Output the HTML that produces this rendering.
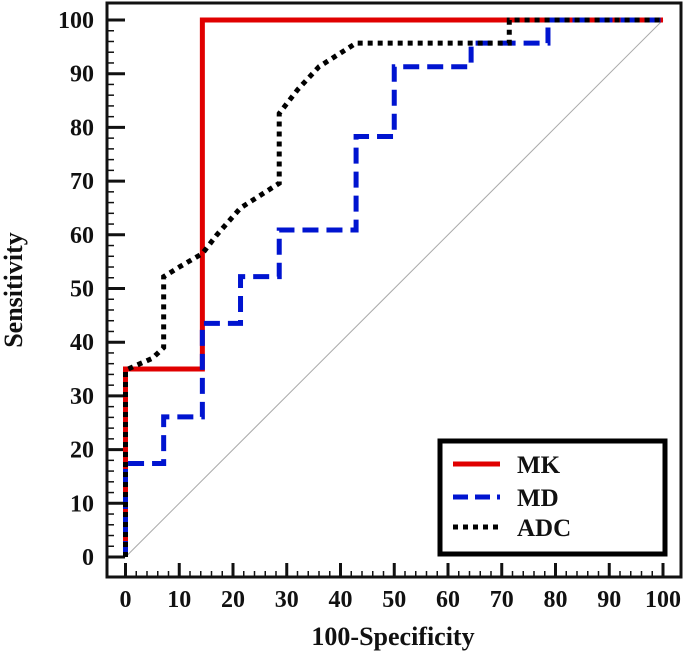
<!DOCTYPE html>
<html><head><meta charset="utf-8"><style>
body{margin:0;background:#fff}
svg text{font-family:"Liberation Serif",serif;font-weight:bold;fill:#111}
</style></head><body>
<svg id="chart" width="685" height="655">
<rect x="107" y="3" width="574" height="574" fill="none" stroke="#111" stroke-width="3"/>
<g id="ticks"></g>
<line id="diag" stroke="#aaa" stroke-width="1"/>
<g id="series"></g>
<text x="393" y="645" font-size="26" text-anchor="middle">100-Specificity</text>
<text transform="translate(22,290) rotate(-90)" font-size="26" text-anchor="middle">Sensitivity</text>
<g>
<rect x="440" y="441" width="225" height="113" fill="#fff" stroke="#000" stroke-width="5"/>
<line x1="453" y1="464" x2="500" y2="464" stroke="#e00000" stroke-width="5"/>
<text x="517" y="473" font-size="25">MK</text>
<line x1="453" y1="497" x2="500" y2="497" stroke="#0014d0" stroke-width="5" stroke-dasharray="15,7"/>
<text x="517" y="506" font-size="25">MD</text>
<line x1="453" y1="527" x2="500" y2="527" stroke="#000" stroke-width="5" stroke-dasharray="5,5"/>
<text x="517" y="536" font-size="25">ADC</text>
</g>
</svg>
<script>
const xTicks=[0,10,20,30,40,50,60,70,80,90,100];
const yTicks=[0,10,20,30,40,50,60,70,80,90,100];
const mkX=[0,0,14.3,14.3,100];
const mkY=[0,35,35,100,100];
const mdX=[0,0,7.1,7.1,14.3,14.3,21.4,21.4,28.6,28.6,42.9,42.9,50,50,64.3,64.3,78.6,78.6,100];
const mdY=[0,17.4,17.4,26.1,26.1,43.5,43.5,52.2,52.2,60.9,60.9,78.3,78.3,91.3,91.3,95.7,95.7,100,100];
const adcX=[0,0,5,7.1,7.1,10,14.3,17,21.4,28.6,28.6,32,36,42.9,64.3,71.4,71.4,100];
const adcY=[0,34.8,37,39,52.2,54,56.5,60,65,69.6,82.6,87,91.3,95.7,95.7,95.7,100,100];
const sx=v=>125.5+v*5.375, sy=v=>557-v*5.37;
const NS='http://www.w3.org/2000/svg';
const tg=document.getElementById('ticks');
function mk(tag,a){const e=document.createElementNS(NS,tag);for(const k in a)e.setAttribute(k,a[k]);return e;}
xTicks.forEach(t=>{
 const l=mk('line',{x1:sx(t),x2:sx(t),y1:577,y2:563,stroke:'#111','stroke-width':3});
 
 
 tg.appendChild(l);
 if(t<100){for(let m=2;m<10;m+=2){const ml=mk('line',{x1:sx(t+m),x2:sx(t+m),y1:577,y2:571,stroke:'#111','stroke-width':1.5});
 
 
 tg.appendChild(ml);}}
 const tx=mk('text',{x:sx(t),y:607,'font-size':24,'text-anchor':'middle'});tx.textContent=t;
 
 
 tg.appendChild(tx);
});
yTicks.forEach(t=>{
 const l=mk('line',{x1:107,x2:125,y1:sy(t),y2:sy(t),stroke:'#111','stroke-width':3});
 
 
 tg.appendChild(l);
 if(t<100){for(let m=2;m<10;m+=2){const ml=mk('line',{x1:107,x2:114,y1:sy(t+m),y2:sy(t+m),stroke:'#111','stroke-width':1.5});
 
 
 tg.appendChild(ml);}}
 const tx=mk('text',{x:94,y:sy(t)+8,'font-size':24,'text-anchor':'end'});tx.textContent=t;
 
 
 tg.appendChild(tx);
});
const d=document.getElementById('diag');
d.setAttribute('x1',sx(0));d.setAttribute('y1',sy(0));d.setAttribute('x2',sx(100));d.setAttribute('y2',sy(100));
const sg=document.getElementById('series');
function line(xs,ys,color,dash,name){
 const p=mk('polyline',{points:xs.map((x,i)=>sx(x)+','+sy(ys[i])).join(' '),fill:'none',stroke:color,'stroke-width':5,'stroke-dasharray':dash});
 
 
 sg.appendChild(p);
}
line(mkX,mkY,'#e00000','none','mk-line');
line(mdX,mdY,'#0014d0','16,8','md-line');
line(adcX,adcY,'#000','5,5','adc-line');
</script>
</body></html>
